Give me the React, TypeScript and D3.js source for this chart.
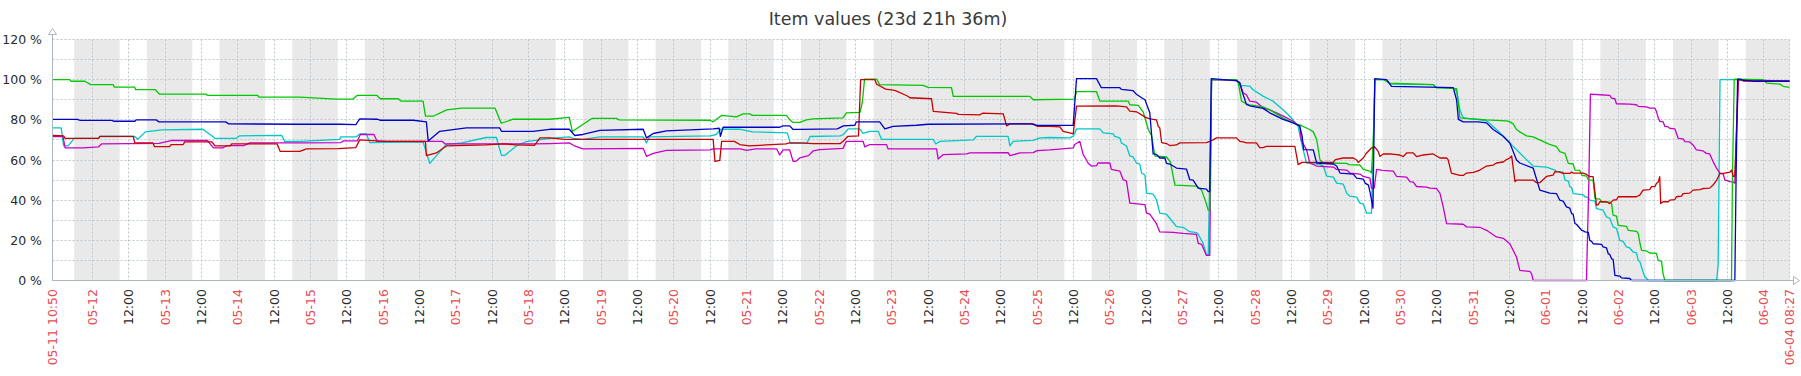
import React from 'react';
import * as d3 from 'd3';

const TITLE = 'Item values (23d 21h 36m)';
const START = Date.UTC(2020, 4, 11, 10, 50);
const END = Date.UTC(2020, 5, 4, 8, 27);
const BASE = Date.UTC(2020, 4, 11);
const startLabel = '05-11 10:50';
const endLabel = '06-04 08:27';
const yTicks = [0, 20, 40, 60, 80, 100, 120];
const yGrid = [0, 10, 20, 30, 40, 50, 60, 70, 80, 90, 100, 110, 120];

// [hours since 2020-05-11 00:00 UTC, value %]
const redSeries: [number, number][] = [
[10.83,72.2],[14.5,72],[15,70.8],[26,70.8],[26.5,71.8],[37.5,71.8],[38,68.5],[44,68.5],[44.5,66.7],[49.5,66.7],[50,67.7],[54,67.7],[54.5,69],[63.5,69],[64.5,67],[69.5,67],[70,68],[85,68],[86,64.3],[92.5,64.3],
[94.7,65.5],[105,65.7],[111,66.2],[112.3,70],[121,69.3],[134,69.2],[134.3,62.2],[137.6,63.5],[140.9,67],[154,67.5],[160,68],[164,67.5],[170,67.3],[171.8,71],[175,71],
[180,70.3],[229,70.3],[229.6,59.3],[231.2,59.8],[231.8,69.3],[236,69.3],[237.8,67.7],[241,67],[246.6,67.5],[253,68],[254.3,68.5],[257.6,68.5],
[262,68.2],[271,68.2],[272,69.5],[273.5,71.8],[277,72],[277.7,100],[282.4,100],[283,97.7],[286,95.3],[289,94.7],[293,92],[294,91],[301.1,90.5],[301.7,84.2],[309.4,83.2],[310,82.7],[317,82.5],[318,83.3],[324.8,83],[325.9,77],[327,78],[334.7,78],[336,76.8],[340.2,76.8],
[343.5,76.5],[344.6,74.3],[346.8,73.5],[347.9,73],[349,86.8],[362.2,87],[365.5,86.5],[366.6,84.3],[368.8,84],[372.1,81],[374.3,80.2],[375.4,80],[376,76.8],[376.5,76],[377.1,68.7],[378.7,68.2],[379.8,67.2],[382,67.5],[383.1,68.5],[391.9,68.7],[393,69.3],[394.1,70],[395.2,71],[401.8,71],[402.9,69.3],[404,69],[405.1,68.5],[408.4,68.5],[409.5,66.2],[410.6,66.2],[411.7,66.8],[421.1,66.8],[422.2,57.7],
[423.5,58.8],[433.8,58.8],[434.5,60.2],[437.1,61],[440.4,61],[441.5,60],[442,58.8],[443.7,61],[444.8,63.5],[446.4,66],[447.5,66.5],[448.6,64.3],[449.2,61.7],[450.3,63],[452.5,63],[455.8,62.5],[456.9,61.7],[458,63.5],[460.2,63.5],[461.3,61.7],[463.5,62.5],[466.8,63],[469,61],[471.2,61],[471.7,60.2],[472.8,53.5],[475.6,52.3],[476.7,52.3],[477.8,53.5],[480,53.8],[481.1,54.3],[482.2,55],[484.4,57],[486.6,57.5],[487.7,58.5],[489.9,59],[491,60.2],[492.1,61],[492.7,62],[493.8,49.2],[494.3,50],[499.8,50],[500.9,48.7],[502,48.7],[504.2,51.8],
[506.4,52.5],[507,54.2],[508.6,54],[509.7,53.3],[511.9,53.3],[512.5,54],[513,53.5],[516.3,53.5],[517.4,52.8],[518.5,51.7],[519.6,51.7],[520.7,37.5],[521.3,37.8],[521.8,39.2],[524,39.2],[525.1,38.3],[526.2,40],[527.3,40.2],[527.9,41.7],[533.9,41.7],[535,42.5],[536.1,45],[538.3,45.3],[538.9,46.7],[540,46.7],[540.5,48.3],[541.1,49],[541.6,51.7],[541.9,38.3],[542.7,39.2],[544.4,39.2],[544.9,40],[546.6,40.3],[547.1,41.7],[548.8,42],[549.3,43.3],[551.5,43.5],[552.6,45],[554.8,45.2],[555.9,45.8],[558.1,46],[559.2,47.5],[560.4,50],[561.5,53.3],[562.6,53.3],[563.1,53.5],[564.8,54],[565.3,55],[565.9,51.7],[566.4,52],[567.5,100],[568.6,100],[569.2,99.3],[584.45,99.2]
];

const greenSeries: [number, number][] = [
[10.83,100],[16.5,100],[17,99.2],[21.5,99.2],[23.5,97.5],[30.9,97.5],[31.2,96.3],[38,96.3],[38.3,95],[44.8,95],[46.1,92.8],[61.5,92.8],[62,92.2],[78.6,92.2],[79,91.3],[92.5,91.3],
[104.6,90.3],[110,90.3],[111.5,92.2],[118,92.2],[119,90.5],[125,90.5],[126,89.3],[133.2,89.3],[134,81.8],[136.5,81.8],[141,85],[146,85.8],[157,85.8],[159,78.3],[163,80.3],[175,80.3],
[181.5,81.2],[182.5,74.2],[188.3,80],[189,80.7],[197,80.7],[198,80],[228,79.8],[229,79],[231.8,82.2],[236.7,81.5],[238.9,83],[241,83],[242,82.2],[253.2,82.2],[254.3,80],[255.4,78.7],[257.6,78.7],
[259.8,80],[262,80.5],[271.9,81],[273,83.5],[277.5,83.7],[278.3,89],[279,100.3],[283,100.3],[284,97.5],[298.4,97.2],[300,96.2],[307.7,96],[308.3,91.7],[333.6,91.7],[334.7,90],
[348.3,90.3],[349,94],[355.6,94],[356.7,89.3],[366.1,89.3],[366.6,87.5],[369.4,87.2],[371,84],[372.7,75.2],[373.8,72],[374.9,62],[378.7,61.5],[380,59],[381.5,47.5],[388.6,47],[390.3,45],[391.5,40],[392.5,35],[393,35],[393.6,100],[401.8,100],[402.4,98.5],[403.5,89.3],[405.1,88],[406.2,87.5],[410.6,86.5],[412.8,85],[417.2,81],[421.6,77.8],[422.7,77.5],
[426,75.2],[427.2,74],[428.3,70.2],[429.4,60],[430.5,58.5],[438.2,58.3],[439,57.7],[442.6,57.5],[443.7,55.3],[445.9,54.5],[446.4,53.5],[447,70],[447.5,100],[450.3,100],[452.5,98.3],[466.8,97.5],[467.9,96],[474.5,95.5],[475,90],[475.6,81],[480,80.5],[484.4,80],[491,79.5],[492.1,79],[493.2,78],[494.3,75.2],[495.4,74],[497.6,72],[499.8,71.5],[504.8,68],
[507.5,66.7],[508.6,64.2],[510.3,63.3],[511.4,58.3],[513,58],[513.6,55],[515.2,54.8],[515.8,52.5],[517.4,52],[518,50],[519.6,50],[520.2,40.8],[521.8,40.5],[522.4,39.2],[525.1,39],[525.7,38.3],[526.2,32.5],[527.3,32],[527.9,27.5],[530.6,27],[531.2,25],[534,24.5],[534.5,23.3],[535.1,18.3],[535.6,15],[537.2,14.7],[538.3,13.7],[540.5,13.5],[541.1,10],[542.2,9.5],[542.7,3.3],[543.3,0],[565.3,0],[565.6,50],[566.2,100.3],[575.8,100],[576.9,98.3],[581.3,97.8],[582.4,96.7],[584.45,96.2]
];

const blueSeries: [number, number][] = [
[10.83,80.2],[19,80.2],[20,79.7],[30.5,79.7],[31,79.3],[38,79.3],[38.5,80],[45,80],[46,79],[68,79],[69,78],[92.5,77.8],
[105.7,77.8],[111,77.6],[112.3,80.5],[118,80.3],[119,79.8],[130,79.8],[134.3,79],[134.9,69.5],[138.7,74.3],[145,75.5],[147.5,76],[158.5,76],[159.1,74.3],[169.5,74.3],[175,75.3],
[181.5,75.3],[183.3,72.2],[186,72.7],[191.6,74.8],[205.9,75.3],[207,71],[209.2,73.2],[213.6,74.5],[229,75.5],[231,75.8],[231.4,71.8],[232.3,76.3],[251,76.3],[252,77],[254.3,77],[255.4,75.2],[257.6,75.2],
[270,75.5],[272,77],[275.8,77.3],[276.3,79],[284,79],[285.7,75.5],[288.4,76.7],[296.1,77.3],[300,77.8],[334,78],[336,77.2],[340.2,77.2],
[347.9,77.2],[349,100.5],[355.6,100.5],[357.2,96],[363.3,96],[363.8,95.2],[367.7,94.5],[368.8,92.7],[370.5,91],[371.6,90],[373.2,83.5],[374.3,63],[375.4,62.8],[376.5,61],[378.2,61],[378.7,58.3],[379.8,58],[382,56],[385.3,55.5],[386.4,50.2],[387.5,50],[389.2,46],[391.9,45.5],[392.5,44.3],[393,44.3],[393.5,100.5],[401.8,99.5],[402.9,98.5],[403.5,95],[405.1,87.7],[406.2,87],[410.6,85.7],[412.8,83.5],[417.2,80.2],[420.5,78.5],[422.7,77],
[423.5,72],[424,65.2],[427.2,65],[428.3,58.5],[433.8,58],[434.9,57],[436,53.5],[440.4,53],[441.5,51],[443.7,50.5],[444.3,48.5],[445.4,47.5],[446,43.5],[446.9,36],[447.5,100.5],[451.4,100],[453,96.7],[473.4,96],[474.5,90],[475.1,80.2],[476.7,79],[481.6,79],[484.4,78.5],[486.6,75.2],[489.9,71.8],[492.1,68.5],[494.3,60],[495.4,58.5],[499.8,56],[502,45],[505.3,43.5],
[507.5,43.3],[508.6,40],[509.7,39.5],[510.8,36.7],[511.9,36],[512.5,33.3],[513,33],[513.6,28.3],[514.1,28],[515.8,25],[516.3,24.8],[516.9,24.2],[518,24],[518.5,20],[519.1,19.5],[519.6,18.3],[522.4,18],[522.9,16.7],[524,16.3],[524.6,13.3],[525.1,13],[525.7,10.8],[526.2,10.5],[526.8,2.5],[528.4,2.2],[529,1.3],[531.7,1],[532.3,0],[566.4,0],[566.8,50],[567.3,100.3],[568.1,100.3],[569.2,99.7],[571.4,99.5],[572.5,99.2],[584.45,99.2]
];

const cyanSeries: [number, number][] = [
[10.83,76],[13.7,76],[14.5,67],[16,67],[18,70.8],[26,70.8],[26.5,71.7],[38,71.7],[39,70.3],[41.5,74],[47,75],[60.5,75.3],[64.5,70.8],[71.5,70.8],[72.5,72],[86.5,72.3],[87.5,69.2],[92.5,69.3],
[105.7,70.3],[106,71.5],[111,71.5],[112.3,73],[114.5,73],[115.6,68.7],[133.2,69],[135.4,58.3],[140.9,67.8],[146,68.5],[154,71.2],[157.4,71.2],[159.1,62.3],[160.2,62.3],[164,67],[167.3,69.2],[175,70.8],
[181.5,71.5],[183,70.7],[186,70.3],[191.6,71.5],[205.9,71.5],[207,68.5],[208,71.5],[228,72],[230,72.7],[231.5,75.3],[238,75.3],[242,74],[253.5,73.5],[254.5,68.3],[257.6,68.3],
[260,68.5],[261,71.7],[271,72],[272,72.7],[273.6,75.5],[277.4,75.5],[278.5,73.2],[280.7,74.3],[283.5,74.3],[284.6,70.3],[301.7,70.3],[302.5,68],[303.9,69.3],[314.9,70],[316,71.8],[326.4,71.8],[327,67],[328.1,69.3],[334.7,69.8],[336.9,71],[340.2,71.2],
[346.8,71],[348,72],[349,75.5],[356.7,75.5],[357.8,73.5],[361.1,73],[361.6,71.8],[363.3,71],[363.8,68.5],[365.5,67],[366.6,62],[367.7,61.5],[368.8,58.5],[369.9,58],[370.5,53.5],[371.6,52.5],[372.1,43.5],[374.3,43],[375.4,40.2],[376.5,33.5],[378.7,33],[379.8,31],[382,26.8],[384.2,26.5],[386.4,24.3],[388.6,23.8],[389.2,23],[390.8,18.5],[391.9,13],[392.5,12.5],[393.6,100],[401.8,100],[402.9,97.2],[406.2,96.8],[407.3,95],[410.6,91.8],[413.9,89.3],[417.2,85],[419.4,81.8],[422.2,76.8],[422.7,72.7],
[423.85,65],[424.95,58.5],[429.4,57.8],[430.5,57],[431.6,52],[433.8,51.5],[434.9,48.5],[437.1,48],[438.2,43.5],[439.3,42],[441.5,41.5],[442.6,38.5],[443.7,38],[444.2,36],[444.8,33.5],[446.4,33.5],[447.6,100],[451.4,100],[452.5,97.8],[466.8,97.5],[467.9,96],[473.4,95.8],[474.5,94.2],[475.6,85],[476.7,81],[478.9,80.5],[481.1,80.2],[484.4,79.5],[487.7,75.2],[491,70.2],[493.2,66.8],[495.4,63.5],[497.6,60.2],[499.8,57],[504.2,56.5],
[507,55],[507.5,54.3],[509.7,54],[510.3,50],[511.4,49.5],[511.9,46.7],[512.5,46.3],[513,43.3],[516.3,42.8],[516.9,41.7],[518,41.3],[518.5,40],[520.2,39.5],[520.7,35.8],[522.9,35],[524,31.7],[525.1,31],[526.2,26.7],[527.3,26],[528.4,20],[529.5,19.5],[530.6,16.7],[531.7,16.2],[532.8,14.2],[533.9,13.8],[534.5,10],[535,9.5],[536.1,4.2],[536.7,1.7],[537.2,1.2],[537.8,0],[560.4,0],[560.9,8],[561.5,100],[567,100],[568,99.7],[584.45,99.3]
];

const magentaSeries: [number, number][] = [
[10.83,71.7],[14.3,71.7],[15,66],[21,66],[26,66.5],[27,68],[46,68.3],[50,69.7],[62,69.7],[64,66],[67,66],[68.5,67.2],[74,67.2],[76,68.5],[92.5,68.5],
[106,68.7],[107,69.5],[111.5,69.5],[112.5,72.7],[117,72.7],[118,69.3],[139.5,69.3],[140.5,68],[170,68],[175,68.2],
[181.5,68.5],[183,67.2],[186,65.5],[205.9,65.8],[207,61.8],[209.2,63.3],[213.6,64.8],[228,65],[229,65.5],[238,65.5],[240,64.8],[243,65.5],[250,65.5],[251,62.5],[252.1,65],[254.3,65],[255.4,59.3],[256.5,59.5],[257.6,61],
[260.5,62.2],[262,64.5],[264.2,65.2],[271.9,65.8],[273,69.3],[278.5,69.3],[279.1,66.5],[280.7,67.7],[286.2,67.7],[286.8,65.5],[302.8,65.5],[303.3,60.5],[305,62.7],[312.7,63],[313.8,63.5],[326.4,63.7],[327,62.2],[330.3,63.5],[334.7,63.7],[336,64.7],[340.2,65],
[342.4,65.3],[347.9,66],[348.4,67.7],[350.1,69.3],[351.2,62.7],[352.3,60],[352.8,58.5],[353.9,57],[355.6,57.2],[356.1,58.5],[360,58.5],[360.5,55.3],[363.3,54.5],[364.4,50.2],[365.5,49.5],[366.6,38.5],[371.6,37.8],[372.1,33.5],[373.2,33],[375.4,28.3],[376.5,24.2],[380.9,24],[384.2,23.5],[388.6,23],[389.2,18.5],[390.3,18],[391.9,12.5],[393,12.5],[393.6,100],[401.8,99.5],[402.9,98.3],[404,93.5],[405.1,92.5],[406.2,89.3],[408.4,88.8],[410.6,86],[412.8,85],[416.1,82.7],[417.2,82],[420.5,79.3],[422.7,76.8],
[423.2,70],[423.85,68],[424.95,65.2],[426.05,58.5],[428.3,57],[433.8,56.5],[434.9,55.3],[438.2,55],[439.3,53.5],[442.6,53],[443.7,51.8],[445.9,51],[446.4,46],[447.3,46],[448.1,55.3],[450,54.8],[453.6,54.5],[454.7,51.8],[458,51.5],[459.1,49.2],[460.2,49],[461.3,46.8],[464.6,46.5],[465.7,46],[467.9,45.8],[469,43.5],[470.1,36.7],[471.2,28.3],[476.7,28],[477.8,26.7],[482.2,26.5],[484.4,25],[487.7,21.7],[489.9,21],[492.1,18.3],[494.3,11.7],[495.4,5],[498.7,4.5],[499.3,3.3],[499.8,0],
[517.4,0],[518.2,50],[518.7,92.8],[521.8,92.5],[525.1,92.2],[525.7,90.8],[526.8,90.5],[527.3,88],[531.7,87.8],[533.9,87.5],[534.5,86.7],[537.2,86.5],[538.3,85.8],[540,85.8],[540.5,84.2],[541.1,81],[541.6,79.3],[542.7,79],[543.3,76.7],[544.4,76.5],[544.9,75.8],[546.6,75.5],[547.1,73.3],[547.7,70.8],[549.3,70.5],[549.9,69.2],[551.5,69],[552.6,67.5],[553.7,65],[555.9,64.5],[557,63.3],[558.1,63],[559.2,59.2],[560.4,55.8],[561.5,53.3],[562.6,53],[563.1,50],[563.7,49.8],[564.8,49.2],[565.9,49],[566.4,48.5],[567,75],[567.6,100],[568.1,100],[584.45,99.3]
];

const seriesList = [
  { name: 'cyan', data: cyanSeries, color: '#00C8C8' },
  { name: 'magenta', data: magentaSeries, color: '#C800C8' },
  { name: 'green', data: greenSeries, color: '#00C800' },
  { name: 'red', data: redSeries, color: '#C80000' },
  { name: 'blue', data: blueSeries, color: '#0000C8' },
];

const W = 1801;
const H = 376;
const L = 52.5, R = 1789.5, T = 39.5, B = 280.5;
const FONT = '"DejaVu Sans", sans-serif';

export default function App() {
  const x = d3.scaleUtc().domain([new Date(START), new Date(END)]).range([L, R]);
  const y = d3.scaleLinear().domain([0, 120]).range([B, T]);
  const toDate = (h: number) => new Date(BASE + h * 3600e3);
  const line = d3.line<[number, number]>()
    .x(d => x(toDate(d[0])))
    .y(d => y(d[1]));

  // working-time (Mon-Fri 09:00-18:00) white bands
  const bands: [number, number][] = [];
  for (let d = 0; d < 25; d++) {
    const day = BASE + d * 86400e3;
    const wd = new Date(day).getUTCDay();
    if (wd >= 1 && wd <= 5) {
      const a = Math.max(day + 9 * 3600e3, START);
      const b = Math.min(day + 18 * 3600e3, END);
      if (b > a) bands.push([a, b]);
    }
  }

  const ticks = d3.utcHour.every(12)!.range(new Date(Date.UTC(2020, 4, 12)), new Date(END));
  const fmtDay = d3.utcFormat('%m-%d');
  const snap = (v: number) => Math.round(v - 0.5) + 0.5;
  const red = '#E84C50';
  const axisColor = '#A9B7BF';
  const gridColor = '#BCC7CE';

  return (
    <svg width={W} height={H} style={{ position: 'absolute', left: 0, top: 0, background: '#fff' }}>
      <text x={888} y={25} textAnchor="middle" fontFamily={FONT} fontSize={17.5} fill="#3a3a3a">{TITLE}</text>
      <rect x={L} y={T} width={R - L} height={B - T} fill="#E9E9E9" />
      {bands.map(([a, b], i) => (
        <rect key={i} x={x(new Date(a))} y={T} width={x(new Date(b)) - x(new Date(a))} height={B - T} fill="#FFFFFF" />
      ))}
      {yGrid.map(v => (
        <line key={'h' + v} x1={L} x2={R} y1={snap(y(v))} y2={snap(y(v))} stroke={gridColor} strokeDasharray="2,2" strokeWidth={1} />
      ))}
      {ticks.map((t, i) => (
        <line key={'v' + i} x1={snap(x(t))} x2={snap(x(t))} y1={T} y2={B} stroke={gridColor} strokeDasharray="2,2" strokeWidth={1} />
      ))}
      <line x1={R} x2={R} y1={T} y2={B} stroke={gridColor} strokeDasharray="2,2" />
      {seriesList.map(s => (
        <path key={s.name} d={line(s.data) || ''} fill="none" stroke={s.color} strokeWidth={1.3} strokeLinejoin="round" />
      ))}
      {/* axes */}
      <line x1={L} x2={L} y1={29} y2={B} stroke={axisColor} strokeWidth={1} />
      <line x1={L} x2={1797} y1={B} y2={B} stroke={axisColor} strokeWidth={1} />
      <path d={`M${L - 4},34.5 L${L},28.5 L${L + 4},34.5 Z`} fill="#fff" stroke={axisColor} />
      <path d={`M1793.5,${B - 4} L1799.5,${B} L1793.5,${B + 4} Z`} fill="#fff" stroke={axisColor} />
      {yTicks.map(v => (
        <text key={'yl' + v} x={42} y={y(v)} dy="0.36em" textAnchor="end" fontFamily={FONT} fontSize={12.5} fill="#2a2a2a">{`${v} %`}</text>
      ))}
      {ticks.map((t, i) => {
        const isDay = t.getUTCHours() === 0;
        return (
          <text key={'xl' + i} transform={`translate(${x(t)},289) rotate(-90)`} dy="0.36em" textAnchor="end"
            fontFamily={FONT} fontSize={12.5} fill={isDay ? red : '#2a2a2a'}>
            {isDay ? fmtDay(t) : '12:00'}
          </text>
        );
      })}
      <text transform={`translate(${x(new Date(START))},289) rotate(-90)`} dy="0.36em" textAnchor="end" fontFamily={FONT} fontSize={12.5} fill={red}>{startLabel}</text>
      <text transform={`translate(${x(new Date(END))},289) rotate(-90)`} dy="0.36em" textAnchor="end" fontFamily={FONT} fontSize={12.5} fill={red}>{endLabel}</text>
    </svg>
  );
}
